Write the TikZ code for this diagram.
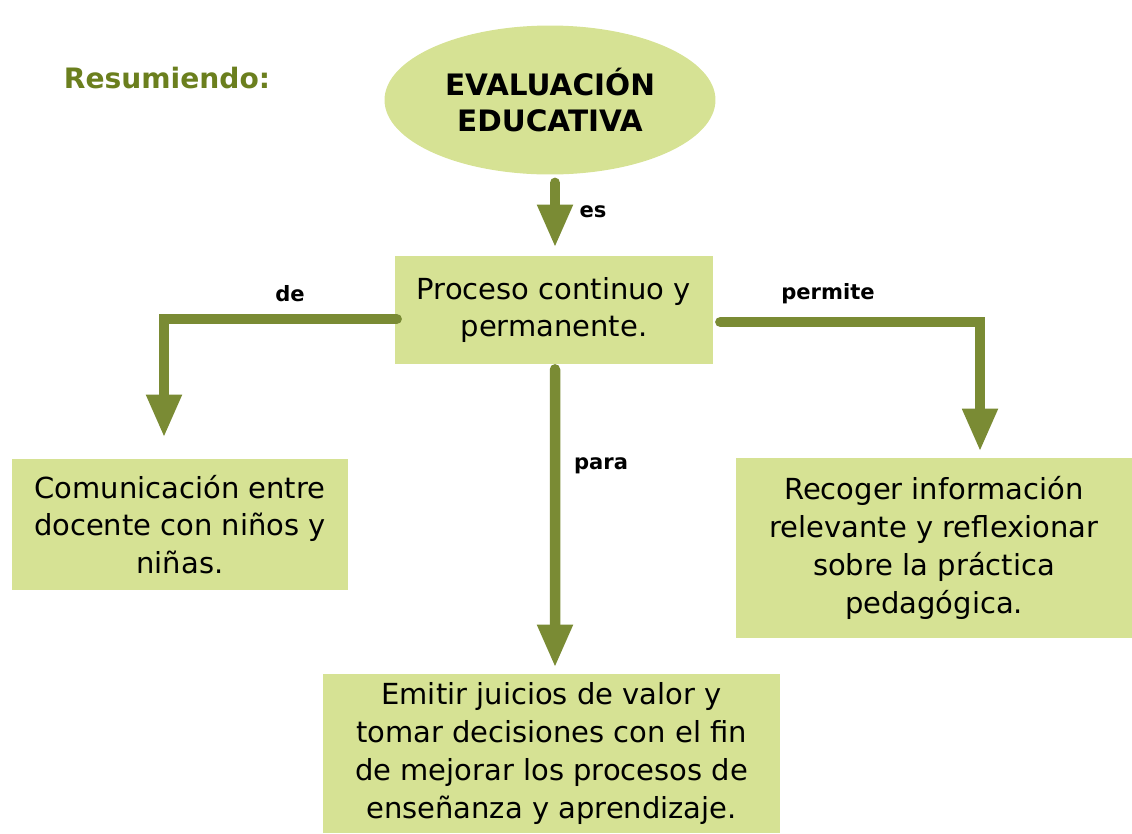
\documentclass[tikz,border=0pt]{standalone}
\usepackage{fontspec}
\setmainfont{DejaVu Sans}
\usetikzlibrary{arrows.meta,calc,shapes.geometric}
\definecolor{boxfill}{RGB}{214,226,148}
\definecolor{arrowcol}{RGB}{122,139,52}
\definecolor{titlecol}{RGB}{107,127,30}
\begin{document}
\begin{tikzpicture}[x=0.02cm,y=-0.02cm,
  box/.style={rectangle, fill=boxfill, align=center, inner sep=0pt,
    font=\fontsize{16.5}{21.5}\selectfont},
  arr/.style={draw=arrowcol, line width=0.21cm, line cap=round, line join=miter,
    -{Triangle[length=0.86cm,width=0.66cm]}},
  lab/.style={font=\fontsize{12}{14}\selectfont\bfseries, inner sep=0pt}]
\useasboundingbox (0,0) rectangle (1132,833);
\node[font=\fontsize{16}{19}\selectfont\bfseries, text=titlecol, inner sep=0pt] (title) at (167,78) {Resumiendo:};
\node[ellipse, fill=boxfill, minimum width=6.62cm, minimum height=2.98cm, inner sep=0pt,
  align=center, font=\fontsize{16.8}{20.4}\selectfont\bfseries] (ell) at (550,100) {EVALUACIÓN\\EDUCATIVA};
\node[box, minimum width=6.36cm, minimum height=2.16cm] (proc) at (554,310) {Proceso continuo y\\permanente.};
\node[box, minimum width=6.72cm, minimum height=2.62cm] (com) at (180,524.5) {Comunicación entre\\docente con niños y\\niñas.};
\node[box, minimum width=7.92cm, minimum height=3.6cm] (rec) at (934,548) {Recoger información\\relevante y reflexionar\\sobre la práctica\\pedagógica.};
\node[box, minimum width=9.14cm, minimum height=3.18cm] (emi) at (551.5,753.5) {Emitir juicios de valor y\\tomar decisiones con el fin\\de mejorar los procesos de\\enseñanza y aprendizaje.};
\draw[arr] ($(ell.south)+(5,8)$) -- ($(proc.north)+(1,-8)$);
\draw[arr] ($(proc.west)+(2,9)$) -| ($(com.north)+(-16,-21)$);
\draw[arr] ($(proc.east)+(7,12)$) -| ($(rec.north)+(46,-6)$);
\draw[arr] ($(proc.south)+(1,5)$) -- ($(emi.north)+(3.5,-6)$);
\node[lab] (les) at (593,212) {es};
\node[lab] (lde) at (290,294) {de};
\node[lab] (lper) at (828,294) {permite};
\node[lab] (lpara) at (601,466) {para};
\end{tikzpicture}
\end{document}
